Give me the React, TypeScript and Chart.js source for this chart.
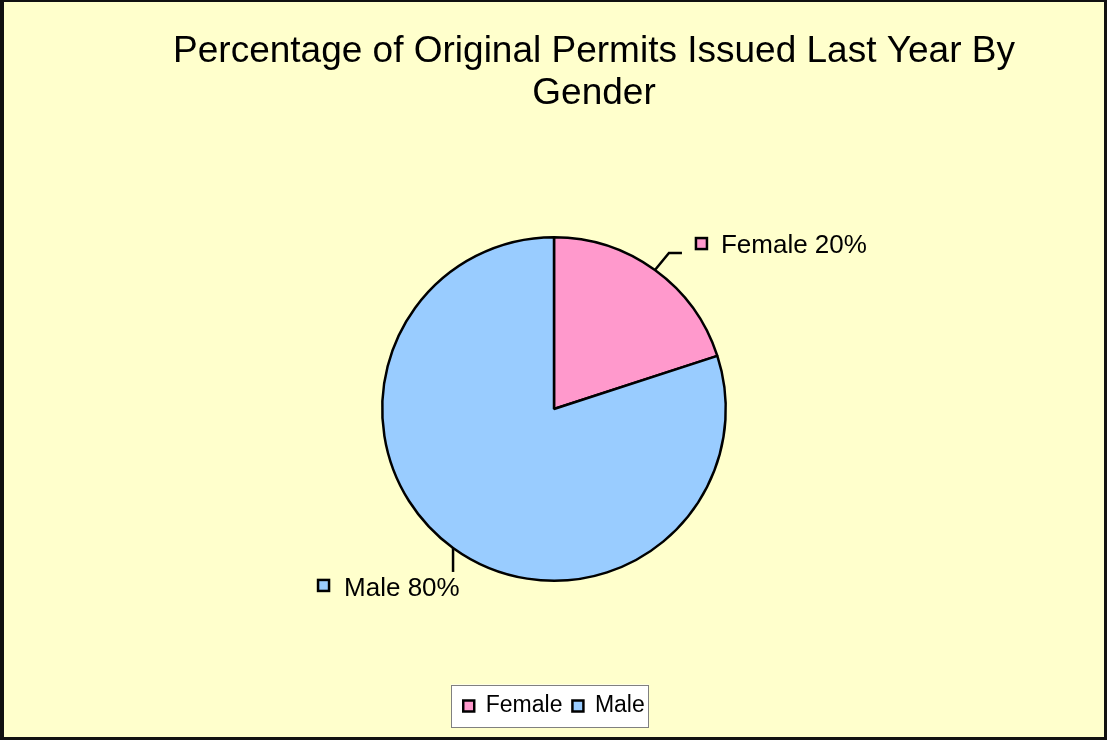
import React, { useEffect, useRef } from "react";
import { Chart, registerables } from "chart.js";

Chart.register(...registerables);

const categories = ["Female", "Male"];
const values = [20, 80];
const sliceColors = ["#FF99CC", "#99CCFF"];
const titleLines = ["Percentage of Original Permits Issued Last Year By", "Gender"];

const FONT = "'Liberation Sans', Arial, Helvetica, sans-serif";

export default function App() {
  const ref = useRef<HTMLCanvasElement>(null);

  useEffect(() => {
    document.body.style.margin = "0";
    const canvas = ref.current;
    if (!canvas) return;

    const decor = {
      id: "decor",
      beforeDraw(chart: any) {
        const { ctx, width, height } = chart;
        ctx.save();
        ctx.fillStyle = "#111111";
        ctx.fillRect(0, 0, width, height);
        ctx.fillStyle = "#FFFFCC";
        ctx.fillRect(4, 2, width - 7, height - 5);
        const lg = chart.legend;
        if (lg && lg.legendHitBoxes && lg.legendHitBoxes.length) {
          const hb = lg.legendHitBoxes;
          const last = hb[hb.length - 1];
          const x0 = hb[0].left - 12;
          const x1 = last.left + last.width + 4;
          const y0 = lg.top;
          const y1 = lg.bottom;
          ctx.fillStyle = "#FFFFFF";
          ctx.fillRect(x0, y0, x1 - x0, y1 - y0);
          ctx.strokeStyle = "#808080";
          ctx.lineWidth = 1;
          ctx.strokeRect(Math.round(x0) + 0.5, Math.round(y0) + 0.5, Math.round(x1 - x0) - 1, Math.round(y1 - y0) - 1);
        }
        ctx.restore();
      },
      afterDraw(chart: any) {
        const { ctx } = chart;
        ctx.save();
        // title
        ctx.fillStyle = "#000";
        ctx.font = `37px ${FONT}`;
        ctx.textAlign = "center";
        ctx.textBaseline = "alphabetic";
        ctx.fillText(titleLines[0], 594, 62);
        ctx.fillText(titleLines[1], 594, 104);

        // data labels
        const meta = chart.getDatasetMeta(0);
        const ds = chart.data.datasets[0];
        const total = (ds.data as number[]).reduce((a, b) => a + b, 0);
        ctx.font = `26px ${FONT}`;
        ctx.textAlign = "left";
        meta.data.forEach((arc: any, i: number) => {
          const p = arc.getProps(["x", "y", "outerRadius", "startAngle", "endAngle"], true);
          const mid = (p.startAngle + p.endAngle) / 2;
          const px = p.x + Math.cos(mid) * p.outerRadius;
          const py = p.y + Math.sin(mid) * p.outerRadius;
          const pct = Math.round(((ds.data[i] as number) / total) * 100);
          const text = `${chart.data.labels[i]} ${pct}%`;
          ctx.strokeStyle = "#000";
          ctx.lineWidth = 2.5;
          let sx: number, sy: number, tx: number, ty: number;
          ctx.beginPath();
          if (Math.cos(mid) >= 0) {
            ctx.moveTo(px, py);
            ctx.lineTo(px + 14, py - 17);
            ctx.lineTo(px + 27, py - 17);
            sx = px + 41; sy = py - 32;
            tx = px + 66; ty = py - 17;
          } else {
            ctx.moveTo(px, py);
            ctx.lineTo(px, py + 24);
            sx = px - 135; sy = py + 32;
            tx = px - 109; ty = py + 48;
          }
          ctx.stroke();
          ctx.fillStyle = sliceColors[i];
          ctx.fillRect(sx, sy, 11, 11);
          ctx.strokeRect(sx, sy, 11, 11);
          ctx.fillStyle = "#000";
          ctx.fillText(text, tx, ty);
        });
        ctx.restore();
      },
    };

    const chart = new Chart(canvas, {
      type: "pie",
      data: {
        labels: categories,
        datasets: [
          {
            data: values,
            backgroundColor: sliceColors,
            borderColor: "#000000",
            borderWidth: 2.5,
            hoverOffset: 0,
          },
        ],
      },
      options: {
        animation: false,
        responsive: true,
        maintainAspectRatio: false,
        layout: { padding: { top: 133.5, bottom: 12.5, left: 381, right: 380 } },
        plugins: {
          title: { display: false },
          tooltip: { enabled: false },
          legend: {
            display: true,
            position: "bottom",
            labels: {
              color: "#000",
              boxWidth: 11,
              boxHeight: 11,
              padding: 10,
              font: { size: 23, family: FONT },
            },
          },
        },
      },
      plugins: [decor],
    });

    return () => chart.destroy();
  }, []);

  return (
    <div style={{ position: "absolute", left: 0, top: 0, width: 1107, height: 740 }}>
      <canvas ref={ref} />
    </div>
  );
}
